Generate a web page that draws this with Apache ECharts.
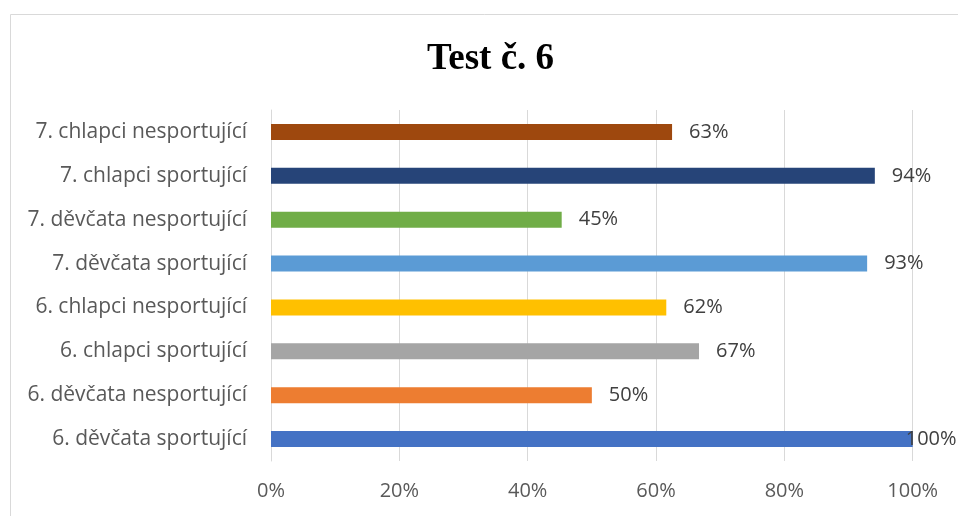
<!DOCTYPE html>
<html><head><meta charset="utf-8">
<script src="https://cdn.jsdelivr.net/npm/echarts@6/dist/echarts.min.js"></script>
<style>html,body{margin:0;padding:0;background:#fff}#c{width:958px;height:516px}</style>
</head><body><div id="c"></div>
<script>
const categories = ["6. děvčata sportující","6. děvčata nesportující","6. chlapci sportující","6. chlapci nesportující","7. děvčata sportující","7. děvčata nesportující","7. chlapci sportující","7. chlapci nesportující"];
const values = [100, 50, 66.7, 61.6, 92.9, 45.3, 94.1, 62.5];
const colors = ["#4472C4","#ED7D31","#A5A5A5","#FFC000","#5B9BD5","#70AD47","#264478","#9E480E"];
const xTicks = [0,20,40,60,80,100];

const chart = echarts.init(document.getElementById('c'), null, {renderer:'canvas'});
const data = values.map((v,i)=>{
  const d = {value:v, itemStyle:{color:colors[i]}};
  if (v >= 100) d.label = {distance:-7};
  return d;
});
chart.setOption({
  animation:false,
  graphic:[{type:'rect', shape:{x:10.5,y:14.5,width:1000,height:600}, style:{fill:'none',stroke:'#d9d9d9',lineWidth:1}, silent:true}],
  title:{text:'Test č. 6', left:422, top:36, textStyle:{fontFamily:'Liberation Serif', fontWeight:'bold', fontSize:37, color:'#000'}},
  grid:{left:271, right:45.3, top:110, bottom:55, containLabel:false},
  xAxis:{type:'value', min:0, max:100, interval:20,
    axisLine:{show:false}, axisTick:{show:false},
    splitLine:{show:true, lineStyle:{color:'#d9d9d9', width:1}},
    axisLabel:{formatter:v=>v+'%', fontFamily:'Open Sans', fontSize:20, color:'#595959', margin:20}},
  yAxis:{type:'category', data:categories,
    axisLine:{show:true, lineStyle:{color:'#d9d9d9'}}, axisTick:{show:false},
    axisLabel:{fontFamily:'Open Sans', fontSize:21, color:'#595959', margin:24}},
  series:[{type:'bar', data:data, barWidth:16,
    label:{show:true, position:'right', distance:17, formatter:p=>Math.round(p.value)+'%', fontFamily:'Open Sans', fontSize:20, color:'#404040'}}]
});
</script></body></html>
